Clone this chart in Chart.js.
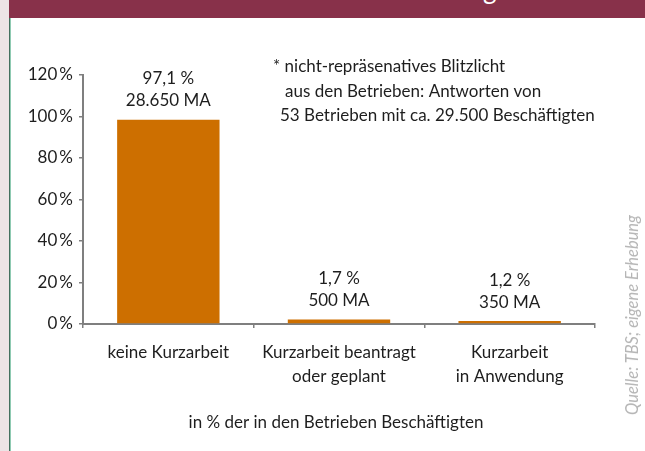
<!DOCTYPE html>
<html><head><meta charset="utf-8">
<script src="https://cdn.jsdelivr.net/npm/chart.js@4"></script>
<style>
html,body{margin:0;padding:0;background:#fff;}
#wrap{position:relative;width:645px;height:451px;overflow:hidden;font-family:Lato,sans-serif;background:#fff;}
#header{position:absolute;left:9px;top:0;width:636px;height:18px;background:#88314A;overflow:hidden;}
#header span{position:absolute;left:474px;top:-24px;font-size:26px;line-height:1;color:#fff;font-family:Lato,sans-serif;}
#strip{position:absolute;left:0;top:0;width:9px;height:451px;background:#EDE4E6;}
#l1{position:absolute;left:9px;top:18px;width:1px;height:433px;background:#44705f;}
#l2{position:absolute;left:10px;top:18px;width:1px;height:433px;background:#8fcab2;}
#src{position:absolute;left:632px;top:315px;transform:translate(-50%,-50%) rotate(-90deg);white-space:nowrap;font-style:italic;font-size:16.5px;color:#b5b5b5;font-family:Lato,sans-serif;}
canvas{position:absolute;left:0;top:0;}
</style>
</head><body>
<div id="wrap">
<div id="strip"></div>
<div id="header"><span>g</span></div>
<div id="l1"></div><div id="l2"></div>
<canvas id="c" width="645" height="451"></canvas>
<div id="src">Quelle: TBS; eigene Erhebung</div>
</div>
<script>
const categories = [["keine Kurzarbeit"], ["Kurzarbeit beantragt", "oder geplant"], ["Kurzarbeit", "in Anwendung"]];
const values = [98.4, 2.2, 1.4];
const pctLabels = ["97,1 %", "1,7 %", "1,2 %"];
const maLabels = ["28.650 MA", "500 MA", "350 MA"];
const noteLines = ["* nicht-repräsenatives Blitzlicht", "aus den Betrieben: Antworten von", "53 Betrieben mit ca. 29.500 Beschäftigten"];
const xTitle = "in % der in den Betrieben Beschäftigten";
const yTicks = [0, 20, 40, 60, 80, 100, 120];

const FONT = 'Lato, sans-serif';
const FS = 17;
const TEXT = '#1e1e1e';
const AXIS = '#7f7f7f';

const labelPlugin = {
  id: 'labels',
  afterDatasetsDraw(chart) {
    const ctx = chart.ctx;
    const meta = chart.getDatasetMeta(0);
    ctx.save();
    ctx.fillStyle = TEXT;
    ctx.font = FS + 'px ' + FONT;
    ctx.textAlign = 'center';
    ctx.textBaseline = 'middle';
    meta.data.forEach((bar, i) => {
      ctx.fillText(pctLabels[i], bar.x, bar.y - 41);
      ctx.fillText(maLabels[i], bar.x, bar.y - 19);
    });
    ctx.textAlign = 'left';
    const nx = [273, 285, 280];
    const ny = [67, 92, 116];
    noteLines.forEach((t, i) => ctx.fillText(t, nx[i], ny[i]));
    ctx.textAlign = 'center';
    const ca = chart.chartArea;
    ctx.fillText(xTitle, (ca.left + ca.right) / 2 - 3, ca.bottom + 99);
    ctx.restore();
  }
};

new Chart(document.getElementById('c'), {
  type: 'bar',
  data: {
    labels: categories,
    datasets: [{
      data: values,
      backgroundColor: '#CD6F00',
      borderWidth: 0,
      barPercentage: 0.6,
      categoryPercentage: 1.0
    }]
  },
  options: {
    responsive: false,
    animation: false,
    devicePixelRatio: 1,
    layout: { padding: { left: 10, right: 50, top: 75, bottom: 0 } },
    plugins: { legend: { display: false }, tooltip: { enabled: false } },
    scales: {
      x: {
        grid: { offset: true, drawOnChartArea: false, tickLength: 4, color: AXIS, lineWidth: 1.5 },
        border: { color: AXIS, width: 2 },
        ticks: { font: { family: FONT, size: FS, lineHeight: 1.41 }, color: TEXT, padding: 13, maxRotation: 0 },
        afterFit(s) { s.height = 127; }
      },
      y: {
        min: 0, max: 120,
        afterBuildTicks(s) { s.ticks = yTicks.map(v => ({ value: v })); },
        grid: { drawOnChartArea: false, tickLength: 4, color: AXIS, lineWidth: 1.5 },
        border: { color: AXIS, width: 2 },
        ticks: { font: { family: FONT, size: FS }, color: TEXT, padding: 6, callback: v => v + '\u2009%' },
        afterFit(s) { s.width = 73; }
      }
    }
  },
  plugins: [labelPlugin]
});
</script>
</body></html>
